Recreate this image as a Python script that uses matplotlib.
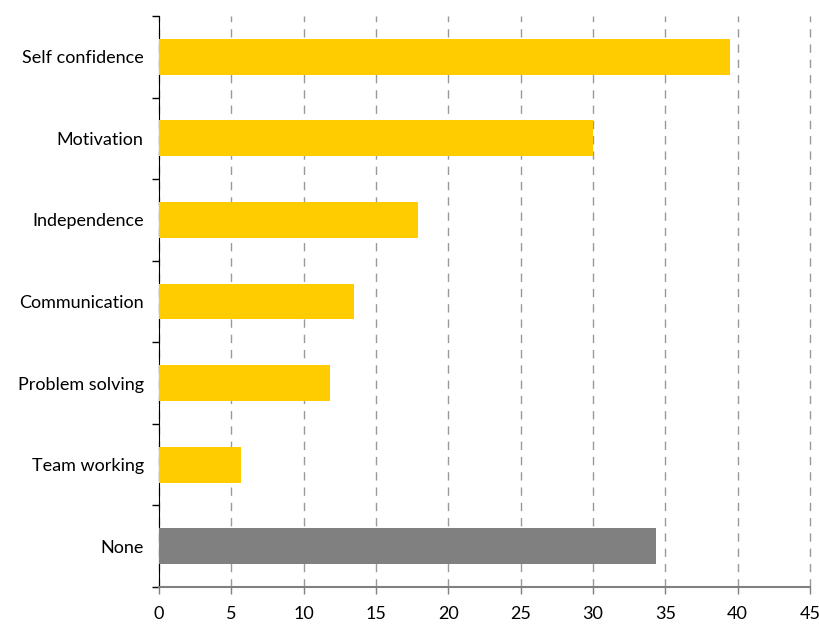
import numpy as np
import matplotlib.pyplot as plt

# values, top to bottom
skills = ["Self confidence", "Motivation", "Independence", "Communication",
          "Problem solving", "Team working", "None"]
percent = [39.5, 30.0, 17.9, 13.5, 11.8, 5.7, 34.35]
colours = ["#FFCC00"] * 6 + ["#808080"]

plt.rcParams['font.family'] = ['Lato', 'DejaVu Sans']

fig = plt.figure(figsize=(8.2, 6.26), dpi=100)
ax = fig.add_axes([0.1939, 0.0623, 0.7939, 0.9121])

ypos = np.arange(len(skills))
ax.barh(ypos, percent, height=0.44, color=colours, zorder=3)
ax.set_ylim(len(skills) - 0.5, -0.5)
ax.set_xlim(0, 45)
ax.set_xticks(range(0, 50, 5))

# category labels, tick marks at the boundaries
ax.set_yticks(ypos)
ax.set_yticklabels(skills, fontsize=13)
ax.set_yticks(np.arange(-0.5, len(skills)), minor=True)
ax.tick_params(axis='y', which='major', length=0, pad=11)
ax.tick_params(axis='y', which='minor', length=5, width=1, color='black')
ax.tick_params(axis='x', length=5, width=1, color='#808080', labelsize=13, pad=9)

ax.grid(axis='x', linestyle=(0, (6, 5)), color='#999999', linewidth=1, zorder=0)
for gl in ax.get_xgridlines():
    gl.set_clip_on(False)

for side in ['top', 'right']:
    ax.spines[side].set_visible(False)
ax.spines['left'].set_color('black')
ax.spines['bottom'].set_color('#808080')
ax.spines['bottom'].set_linewidth(1.5)

fig.savefig("out.png", dpi=100)
